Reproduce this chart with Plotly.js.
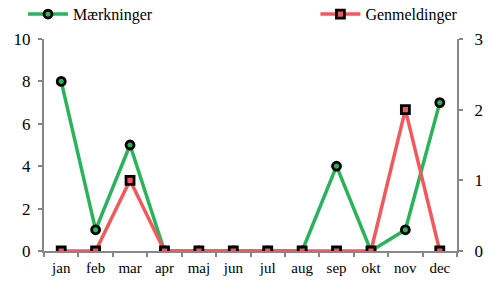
<!DOCTYPE html>
<html><head><meta charset="utf-8">
<script src="https://cdn.plot.ly/plotly-3.0.1.min.js"></script>
<style>html,body{margin:0;padding:0;background:#fff}</style>
</head><body>
<div id="chart" style="width:489px;height:283px"></div>
<script>
const months = ["jan","feb","mar","apr","maj","jun","jul","aug","sep","okt","nov","dec"];
const maerkninger = [8,1,5,0,0,0,0,0,4,0,1,7];
const genmeldinger = [0,0,1,0,0,0,0,0,0,0,2,0];
const fam = "Liberation Serif";
const axisGray = "#878787";
const traces = [
  {x:months, y:maerkninger, name:"Mærkninger", type:"scatter", mode:"lines+markers",
   line:{color:"#2bb35b", width:3.5},
   marker:{symbol:"circle", size:8, color:"#2bb35b", line:{color:"#000", width:2.8}},
   legend:"legend"},
  {x:months, y:genmeldinger, name:"Genmeldinger", type:"scatter", mode:"lines+markers", yaxis:"y2",
   line:{color:"#f05a5c", width:3.5},
   marker:{symbol:"square", size:8, color:"#f05a5c", line:{color:"#000", width:2.8}},
   legend:"legend2"}
];
const layout = {
  width:489, height:283,
  margin:{l:44, r:32, t:39, b:32, autoexpand:false},
  paper_bgcolor:"#fff", plot_bgcolor:"#fff",
  font:{family:fam, size:15, color:"#000"},
  showlegend:true,
  xaxis:{type:"category", range:[-0.5,11.5], showgrid:false, zeroline:false, automargin:false,
    showline:true, linecolor:axisGray, linewidth:2, tickangle:0, ticklabelstandoff:2,
    ticks:"outside", tickson:"boundaries", ticklen:4, tickwidth:2, tickcolor:axisGray,
    tickfont:{family:fam, size:15, color:"#000"}},
  yaxis:{range:[0,10], dtick:2, showgrid:false, zeroline:false, automargin:false,
    showline:true, linecolor:axisGray, linewidth:2, ticklabelstandoff:4,
    ticks:"outside", ticklen:4, tickwidth:2, tickcolor:axisGray,
    tickfont:{family:fam, size:17, color:"#000"}},
  yaxis2:{range:[0,3], dtick:1, overlaying:"y", side:"right", showgrid:false, zeroline:false, automargin:false,
    showline:true, linecolor:axisGray, linewidth:2, ticklabelstandoff:8,
    ticks:"outside", ticklen:4, tickwidth:2, tickcolor:axisGray,
    tickfont:{family:fam, size:17, color:"#000"}},
  legend:{xref:"container", yref:"container", x:0.047, y:0.95, xanchor:"left", yanchor:"middle",
    bgcolor:"rgba(0,0,0,0)", font:{family:fam, size:16, color:"#000"}, itemwidth:40},
  legend2:{xref:"container", yref:"container", x:0.645, y:0.95, xanchor:"left", yanchor:"middle",
    bgcolor:"rgba(0,0,0,0)", font:{family:fam, size:16, color:"#000"}, itemwidth:40}
};
Plotly.newPlot("chart", traces, layout, {displayModeBar:false, staticPlot:true});
</script>
</body></html>
